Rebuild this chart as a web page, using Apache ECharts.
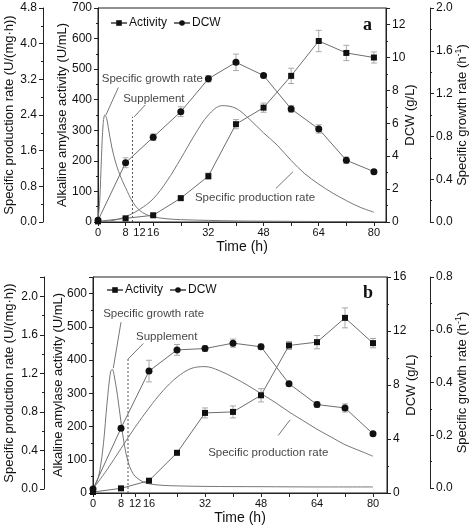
<!DOCTYPE html>
<html><head><meta charset="utf-8">
<script src="https://cdn.jsdelivr.net/npm/echarts@6/dist/echarts.min.js"></script>
<style>html,body{margin:0;padding:0;background:#fff}#c{width:472px;height:529px}</style>
</head><body><div id="c"></div>
<script>
// ---------- Panel a ----------
const timeA = [0,8,16,24,32,40,48,56,64,72,80];
const activityA = [2,12,22,78,150,320,374,478,592,553,538];
const activityErrA = [0,3,4,6,10,15,15,25,35,25,18];
const dcwA = [0.1,3.6,5.15,6.7,8.7,9.7,8.9,6.87,5.65,3.75,3.06];
const dcwErrA = [0,0.3,0.2,0.3,0.2,0.5,0.1,0.2,0.25,0.2,0.1];
const prodTimeA = [0,4,8,12,16,20,24,28,32,36,40,44,48,52,56,60,64,68,72,76,80];
const prodRateA = [0.0,0.03,0.12,0.28,0.52,0.92,1.42,1.95,2.4,2.61,2.55,2.3,2.0,1.72,1.38,1.08,0.85,0.65,0.48,0.33,0.22];
const growthTimeA = [0,0.5,1,1.5,2,2.5,3,4,5,6,7,8,10,12,14,16,20,24,32,40,48,64,80];
const growthRateA = [0.02,0.2,0.6,0.92,1.0,0.97,0.88,0.7,0.57,0.47,0.39,0.32,0.19,0.11,0.07,0.048,0.03,0.022,0.015,0.01,0.008,0.005,0.004];

// ---------- Panel b ----------
const timeB = [0,8,16,24,32,40,48,56,64,72,80];
const activityB = [3,14,37,121,241,244,294,444,454,527,451];
const activityErrB = [0,3,5,6,15,18,20,12,20,30,14];
const dcwB = [0.3,4.8,9.03,10.6,10.7,11.1,10.83,8.1,6.55,6.3,4.38];
const dcwErrB = [0,0.15,0.8,0.4,0.2,0.3,0.2,0.1,0.2,0.3,0.1];
const prodTimeB = [0,4,8,12,16,20,24,28,32,36,40,44,48,52,56,60,64,68,72,76,80];
const prodRateB = [0.0,0.2,0.42,0.64,0.84,1.02,1.16,1.25,1.27,1.23,1.16,1.08,0.99,0.9,0.8,0.71,0.62,0.54,0.46,0.4,0.34];
const growthTimeB = [0,1,2,3,4,5,5.5,6,7,8,9,10,11,12,14,16,20,24,32,48,64,80];
const growthRateB = [0,0.02,0.07,0.17,0.32,0.44,0.45,0.43,0.35,0.25,0.16,0.1,0.065,0.045,0.025,0.016,0.01,0.008,0.006,0.005,0.004,0.004];

// tick labels
const timeTickLabels = [0,8,12,16,32,48,64,80];
const timeTicks = [0,8,12,16,24,32,40,48,56,64,72,80];
const supplementTime = 10;

// annotations [t, activity, text]
const annotA = [[1.1,468,'Specific growth rate'],[7.3,402,'Supplement'],[28.1,79,'Specific production rate']];
const leadersA = [[[5.9,440],[2.3,350]],[[13.7,383],[10.5,344]],[[51.6,110],[56.5,164]]];
const supplementTopA = 344;
const annotB = [[2.9,538,'Specific growth rate'],[12.3,469,'Supplement'],[32.9,121,'Specific production rate']];
const leadersB = [[[8,514],[5.8,376]],[[14.4,450],[10,403]],[[52.9,173],[56.3,220]]];
const supplementTopB = 403;

const FONT = 'Liberation Sans';
const AX = '#222';
const LINE = '#6e6e6e';
const CURVE = '#777';
const TICK_FS = 12, XTICK_FS = 11, NAME_FS = 13, TEXT_FS = 11.5;

function pairs(xs, ys){ return xs.map((x,i)=>[x, ys[i]]); }
function fmt(interval, digits){
  return function(v){
    const r = v/interval;
    if (Math.abs(r - Math.round(r)) > 1e-6) return '';
    return digits ? v.toFixed(digits) : String(Math.round(v));
  };
}
function lab(interval, digits){
  return {fontFamily:FONT, fontSize:TICK_FS, color:'#111', margin:6, formatter:fmt(interval, digits)};
}
function yAx(o){
  return Object.assign({
    type:'value', splitLine:{show:false},
    axisLine:{show:true, onZero:false, lineStyle:{color:AX, width:1}},
    axisTick:{show:true, length:4, lineStyle:{color:AX}},
    minorTick:{show:true, splitNumber:2, length:2, lineStyle:{color:AX}},
    nameLocation:'middle', nameRotate:90, nameMoveOverlap:false,
    nameTextStyle:{fontFamily:FONT, fontSize:NAME_FS, color:'#111',
      rich:{s:{fontFamily:FONT, fontSize:9, color:'#111', verticalAlign:'top', padding:[0,0,7,0]}, n:{fontFamily:FONT, fontSize:NAME_FS, color:'#111'}}}
  }, o);
}
function xAx(o){
  return Object.assign({
    type:'value', min:0, splitLine:{show:false},
    axisLine:{show:true, onZero:false, lineStyle:{color:AX}},
    axisTick:{show:true, length:4, customValues:timeTicks, lineStyle:{color:AX}},
    axisLabel:{fontFamily:FONT, fontSize:XTICK_FS, color:'#111', margin:5, customValues:timeTickLabels},
    name:'Time (h)', nameLocation:'middle', nameGap:18, nameMoveOverlap:false,
    nameTextStyle:{fontFamily:FONT, fontSize:NAME_FS+1, color:'#111'}
  }, o);
}
function hiddenX(o){ return Object.assign({type:'value', min:0, show:false}, o); }

function errSeries(xs, ys, es, xi, yi){
  const d = [];
  xs.forEach((x,i)=>{ if (es[i] > 0) d.push([x, ys[i]-es[i], ys[i]+es[i]]); });
  return {type:'custom', xAxisIndex:xi, yAxisIndex:yi, silent:true, z:1, data:d,
    encode:{x:0, y:[1,2]},
    renderItem(params, api){
      const lo = api.coord([api.value(0), api.value(1)]);
      const hi = api.coord([api.value(0), api.value(2)]);
      const w = 3, st = {stroke:'#a8a8a8', lineWidth:1};
      return {type:'group', children:[
        {type:'line', shape:{x1:lo[0],y1:lo[1],x2:hi[0],y2:hi[1]}, style:st},
        {type:'line', shape:{x1:lo[0]-w,y1:lo[1],x2:lo[0]+w,y2:lo[1]}, style:st},
        {type:'line', shape:{x1:hi[0]-w,y1:hi[1],x2:hi[0]+w,y2:hi[1]}, style:st}
      ]};
    }};
}
function dataSeries(name, xs, ys, sym, size, xi, yi){
  return {type:'line', name, xAxisIndex:xi, yAxisIndex:yi, data:pairs(xs,ys),
    symbol:sym, symbolSize:size, showSymbol:true, z:3,
    lineStyle:{color:LINE, width:1}, itemStyle:{color:'#111', borderWidth:0}};
}
function curve(xs, ys, xi, yi){
  return {type:'line', xAxisIndex:xi, yAxisIndex:yi, data:pairs(xs,ys), smooth:0.35,
    symbol:'none', z:2, silent:true, lineStyle:{color:CURVE, width:1}};
}
function leader(seg, xi, yi){
  return {type:'line', xAxisIndex:xi, yAxisIndex:yi, data:seg, symbol:'none', silent:true, z:2,
    lineStyle:{color:CURVE, width:1}};
}
function supplementLine(top, xi, yi){
  return {type:'line', xAxisIndex:xi, yAxisIndex:yi, data:[[supplementTime,0],[supplementTime,top]],
    symbol:'none', silent:true, z:2, lineStyle:{color:'#555', width:1, type:[2,2]}};
}
function texts(list, xi, yi){
  return {type:'scatter', xAxisIndex:xi, yAxisIndex:yi, silent:true, symbolSize:0, z:4,
    data:list.map(a=>({value:[a[0],a[1]], name:a[2]})),
    label:{show:true, position:'right', distance:0, formatter:p=>p.name,
      fontFamily:FONT, fontSize:TEXT_FS, color:'#111'}};
}
const G = {outerBoundsMode:'none', containLabel:false};

const option = {
  animation:false,
  backgroundColor:'#fff',
  grid:[
    Object.assign({left:98, right:86, top:8, bottom:307, show:true, borderColor:AX, borderWidth:1, backgroundColor:'transparent'}, G),
    Object.assign({left:93, right:85, top:277, bottom:36, show:true, borderColor:AX, borderWidth:1, backgroundColor:'transparent'}, G),
    Object.assign({left:93, right:85, top:277, bottom:40, show:false}, G),
    Object.assign({left:93, right:85, top:277, bottom:41, show:false}, G)
  ],
  xAxis:[
    xAx({gridIndex:0, max:83.5}),
    xAx({gridIndex:1, max:84}),
    hiddenX({gridIndex:2, max:84}),
    hiddenX({gridIndex:3, max:84})
  ],
  yAxis:[
    yAx({gridIndex:0, position:'left', min:0, max:700, interval:100, axisLabel:lab(100,0),
      name:'Alkaline amylase activity (U/mL)', nameGap:29}),
    yAx({gridIndex:0, position:'left', offset:55, min:0, max:4.8, interval:0.8, axisLabel:lab(0.8,1),
      name:'Specific production rate (U/(mg·h))', nameGap:27}),
    yAx({gridIndex:0, position:'right', min:0, max:13, interval:2, axisLabel:lab(2,0),
      name:'DCW (g/L)', nameGap:18}),
    yAx({gridIndex:0, position:'right', offset:44, min:0, max:2.0, interval:0.4, axisLabel:lab(0.4,1),
      name:'{n|Specific growth rate (h}{s|-1}{n|)}', nameGap:24}),
    yAx({gridIndex:1, position:'left', min:0, max:650, interval:100, axisLabel:lab(100,0),
      name:'Alkaline amylase activity (U/mL)', nameGap:28}),
    yAx({gridIndex:1, position:'right', min:0, max:16, interval:4, axisLabel:lab(4,0),
      name:'DCW (g/L)', nameGap:18}),
    yAx({gridIndex:2, position:'left', offset:49, min:0, max:2.2, interval:0.4, axisLabel:lab(0.4,1),
      name:'Specific production rate (U/(mg·h))', nameGap:28}),
    yAx({gridIndex:3, position:'right', offset:43, min:0, max:0.8, interval:0.2, axisLabel:lab(0.2,1),
      name:'{n|Specific growth rate (h}{s|-1}{n|)}', nameGap:24})
  ],
  legend:[
    {left:110, top:17, itemWidth:16, itemHeight:7, itemGap:6, padding:0, data:['Activity','DCW'],
      textStyle:{fontFamily:FONT, fontSize:12, color:'#111', padding:[0,0,0,-3]}},
    {left:106, top:284, itemWidth:16, itemHeight:7, itemGap:6, padding:0, data:['Activity','DCW'],
      textStyle:{fontFamily:FONT, fontSize:12, color:'#111', padding:[0,0,0,-3]}}
  ],
  graphic:[
    {type:'text', left:363, top:16, style:{text:'a', fontFamily:'Liberation Serif', fontWeight:'bold', fontSize:18, fill:'#111'}},
    {type:'text', left:363, top:284, style:{text:'b', fontFamily:'Liberation Serif', fontWeight:'bold', fontSize:18, fill:'#111'}}
  ],
  series:[
    // panel a
    curve(prodTimeA, prodRateA, 0, 1),
    curve(growthTimeA, growthRateA, 0, 3),
    supplementLine(supplementTopA, 0, 0),
    leader(leadersA[0], 0, 0), leader(leadersA[1], 0, 0), leader(leadersA[2], 0, 0),
    texts(annotA, 0, 0),
    errSeries(timeA, activityA, activityErrA, 0, 0),
    errSeries(timeA, dcwA, dcwErrA, 0, 2),
    dataSeries('Activity', timeA, activityA, 'rect', 6, 0, 0),
    dataSeries('DCW', timeA, dcwA, 'circle', 7, 0, 2),
    // panel b
    curve(prodTimeB, prodRateB, 2, 6),
    curve(growthTimeB, growthRateB, 3, 7),
    supplementLine(supplementTopB, 1, 4),
    leader(leadersB[0], 1, 4), leader(leadersB[1], 1, 4), leader(leadersB[2], 1, 4),
    texts(annotB, 1, 4),
    errSeries(timeB, activityB, activityErrB, 1, 4),
    errSeries(timeB, dcwB, dcwErrB, 1, 5),
    dataSeries('Activity', timeB, activityB, 'rect', 6, 1, 4),
    dataSeries('DCW', timeB, dcwB, 'circle', 7, 1, 5)
  ]
};
const chart = echarts.init(document.getElementById('c'), null, {renderer:'canvas'});
chart.setOption(option);
</script>
</body></html>
